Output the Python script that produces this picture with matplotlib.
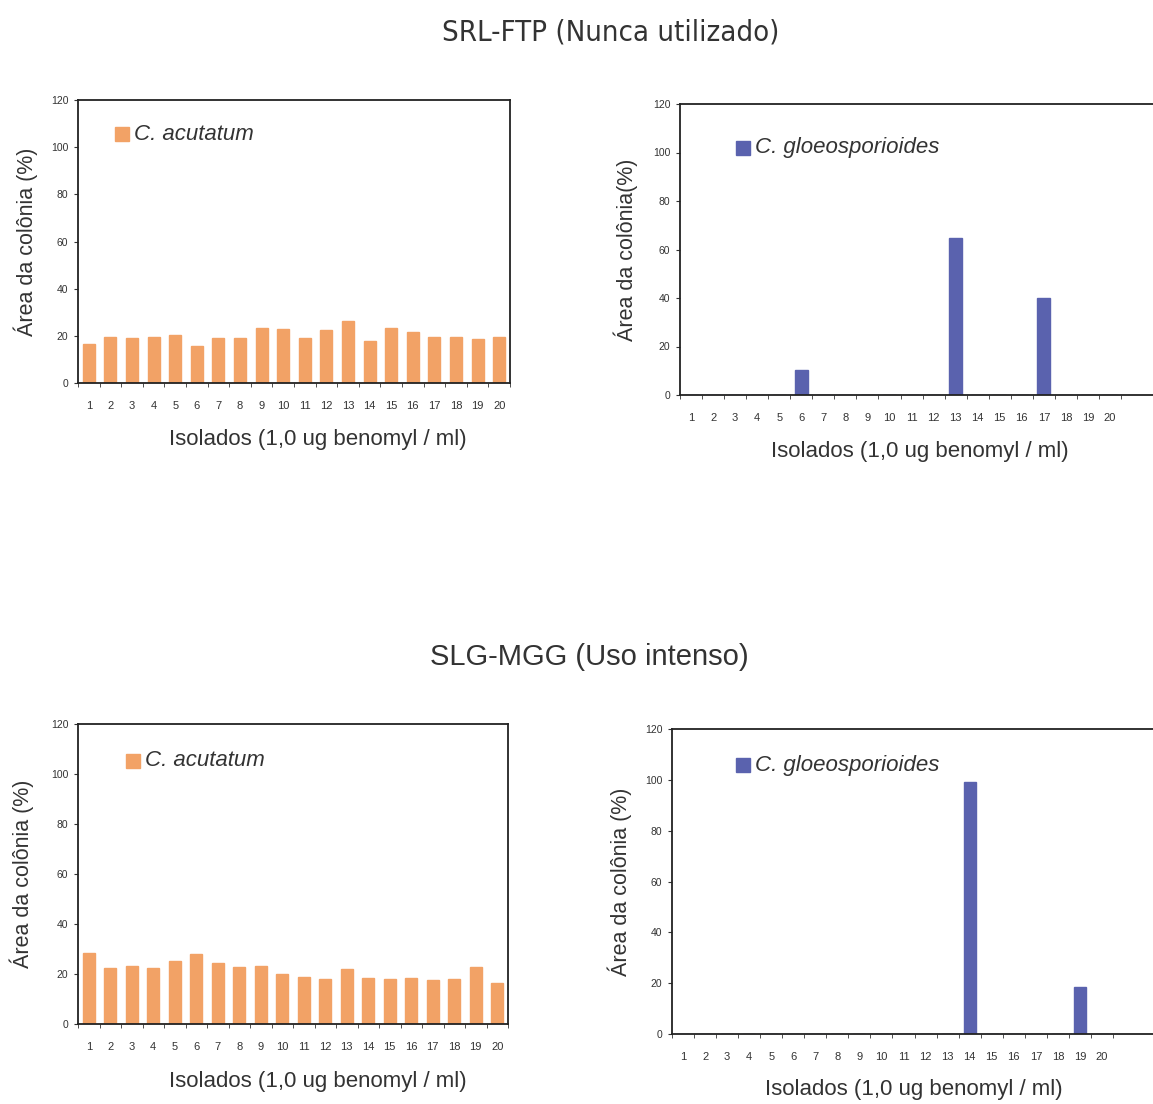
import numpy as np
import matplotlib
matplotlib.use("Agg")
import matplotlib.pyplot as plt
from matplotlib.patches import Rectangle

plt.rcParams['font.family'] = ['Liberation Sans', 'DejaVu Sans']

isolados = list(range(1, 21))

# SRL-FTP (Nunca utilizado)
srl_acutatum = [16.7, 19.5, 19.1, 19.5, 20.5, 15.6, 19.2, 19.1, 23.2, 22.9,
                19.1, 22.5, 26.2, 17.8, 23.2, 21.6, 19.5, 19.5, 18.8, 19.5]
srl_gloeo = [0, 0, 0, 0, 0, 10.3, 0, 0, 0, 0,
             0, 0, 64.6, 0, 0, 0, 39.9, 0, 0, 0]

# SLG-MGG (Uso intenso)
slg_acutatum = [28.5, 22.3, 23.3, 22.5, 25.3, 27.9, 24.3, 22.9, 23.2, 20.0,
                18.9, 17.9, 22.1, 18.3, 17.9, 18.3, 17.6, 17.9, 22.7, 16.5]
slg_gloeo = [0, 0, 0, 0, 0, 0, 0, 0, 0, 0,
             0, 0, 0, 99.3, 0, 0, 0, 0, 18.3, 0]

orange = '#f2a266'
blue = '#5a62ae'
W, H = 1153, 1104

fig = plt.figure(figsize=(W / 100, H / 100), dpi=100)
fig.patch.set_facecolor('white')


def px_axes(left, top, right, bottom):
    return fig.add_axes([left / W, 1 - bottom / H, (right - left) / W, (bottom - top) / H])


def panel(box, values, color, name, ylabel, xlab_xy, ylab_x, leg_xy, spacing=None, width=0.55):
    left, top, right, bottom = box
    ax = px_axes(left, top, right, bottom)
    ax.bar(isolados, values, width=width, color=color, edgecolor=color, zorder=2)
    ax.set_ylim(0, 120)
    if spacing is None:
        ax.set_xlim(0.5, 20.5)
    else:
        ax.set_xlim(0.5, 0.5 + (right - left) / spacing)
    ax.set_yticks(np.arange(0, 121, 20))
    ax.set_xticks(isolados)
    ax.set_xticks(np.arange(0.5, 21, 1), minor=True)
    ax.tick_params(axis='x', which='major', length=0, labelsize=8, pad=13, colors='#333333')
    ax.tick_params(axis='x', which='minor', length=3, direction='out', color='#333333')
    ax.tick_params(axis='y', length=3, labelsize=7.5, colors='#333333', pad=4)
    for s in ax.spines.values():
        s.set_linewidth(1.3)
        s.set_color('#222222')
    ax.set_facecolor('none')
    fig.text(xlab_xy[0] / W, 1 - xlab_xy[1] / H, 'Isolados (1,0 ug benomyl / ml)',
             ha='center', va='center', fontsize=16, color='#333333')
    fig.text(ylab_x / W, 1 - (top + bottom) / 2 / H, ylabel, ha='center', va='center',
             rotation=90, fontsize=15.5, color='#333333')
    lx, ly = leg_xy
    fig.patches.append(Rectangle(((lx - 7) / W, 1 - (ly + 7) / H), 14 / W, 14 / H,
                                 transform=fig.transFigure, color=color))
    fig.text((lx + 12) / W, 1 - ly / H, name, ha='left', va='center', fontsize=16,
             style='italic', color='#333333')
    return ax


panel((78, 100, 510, 383), srl_acutatum, orange, 'C. acutatum', 'Área da colônia (%)',
      (318, 440), 26, (122, 134))
panel((680, 104, 1175, 395), srl_gloeo, blue, 'C. gloeosporioides', 'Área da colônia(%)',
      (920, 452), 626, (743, 148), spacing=22.05, width=0.6)
panel((78, 724, 508, 1024), slg_acutatum, orange, 'C. acutatum', 'Área da colônia (%)',
      (318, 1082), 22, (133, 761))
panel((672, 729, 1175, 1034), slg_gloeo, blue, 'C. gloeosporioides', 'Área da colônia (%)',
      (914, 1090), 620, (743, 765), spacing=22.05, width=0.55)

fig.text(611 / W, 1 - 33 / H, 'SRL-FTP (Nunca utilizado)', ha='center', va='center',
         fontsize=21, color='#333333', stretch='condensed',
         family=['Liberation Sans Narrow', 'DejaVu Sans'])
fig.text(589 / W, 1 - 657 / H, 'SLG-MGG (Uso intenso)', ha='center', va='center',
         fontsize=21, color='#333333')

fig.savefig('out.png', dpi=100)
